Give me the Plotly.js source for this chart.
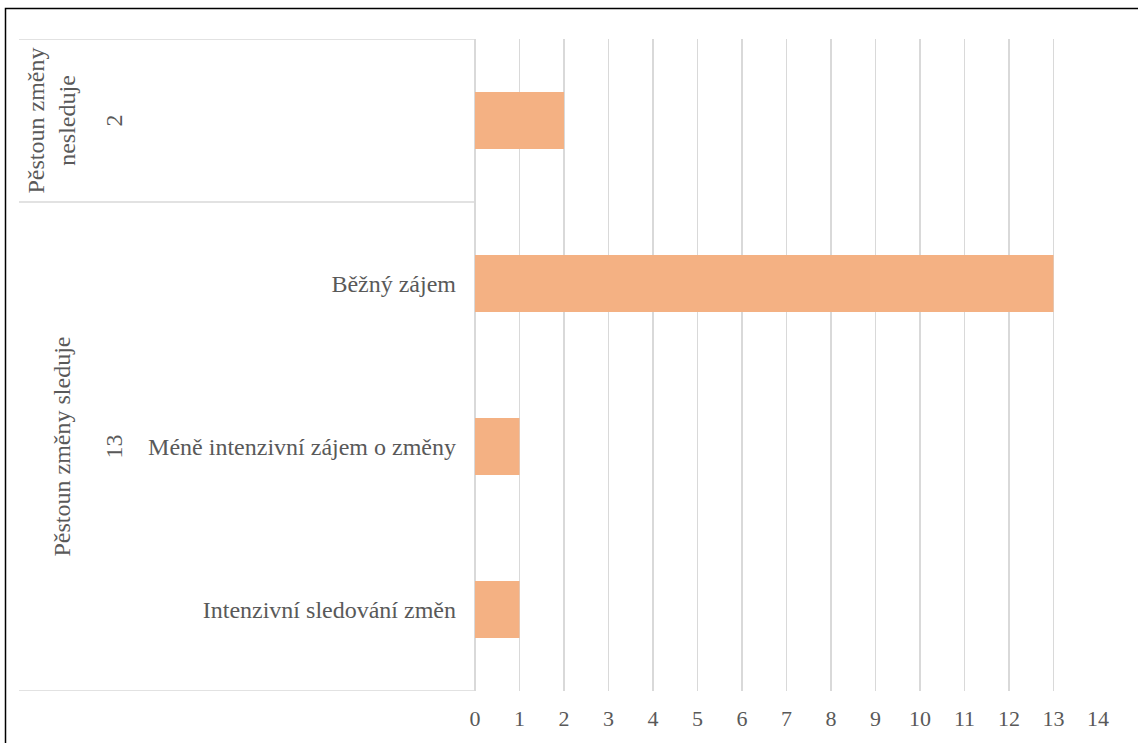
<!DOCTYPE html>
<html>
<head>
<meta charset="utf-8">
<script src="https://cdn.plot.ly/plotly-3.0.1.min.js"></script>
<style>
  html, body { margin: 0; padding: 0; background: #ffffff; }
  #chart { width: 1138px; height: 743px; }
</style>
</head>
<body>
<div id="chart"></div>
<script>
// ---- Data ----
const innerLabels = ["", "Běžný zájem", "Méně intenzivní zájem o změny", "Intenzivní sledování změn"];
const values = [2, 13, 1, 1];
const groupLabels = ["Pěstoun změny<br>nesleduje", "Pěstoun změny sleduje"];
const groupTotals = ["2", "13"];
const groupSizes = [1, 3];
const xTicks = [0, 1, 2, 3, 4, 5, 6, 7, 8, 9, 10, 11, 12, 13, 14];

// ---- Layout helpers ----
const W = 1138, H = 743;
const L = 475, R = 40, T = 39, B = 52;
const plotW = W - L - R;
const px = (x) => (x - L) / plotW; // pixel x -> paper x

const idx = innerLabels.map((_, i) => i);
const textColor = '#595959';
const gridColor = '#d9d9d9';
const font = 'Liberation Serif';

const trace = {
  type: 'bar',
  orientation: 'h',
  y: idx,
  x: values,
  width: 0.35,
  marker: { color: '#f4b183', line: { width: 0 } },
  hoverinfo: 'x'
};

// group boundaries and annotations
const shapes = [];
const annotations = [];
let start = 0;
const boundaries = [-0.5];
groupSizes.forEach((n, g) => {
  const mid = start + (n - 1) / 2;
  annotations.push({
    xref: 'paper', yref: 'y', x: px(g === 0 ? 51 : 61), y: mid,
    text: groupLabels[g], textangle: -90, showarrow: false,
    font: { family: font, size: 24, color: textColor },
    xanchor: 'center', yanchor: 'middle'
  });
  annotations.push({
    xref: 'paper', yref: 'y', x: px(113), y: mid,
    text: groupTotals[g], textangle: -90, showarrow: false,
    font: { family: font, size: 24, color: textColor },
    xanchor: 'center', yanchor: 'middle'
  });
  start += n;
  boundaries.push(start - 0.5);
});
boundaries.forEach(b => {
  shapes.push({
    type: 'line', xref: 'paper', yref: 'y',
    x0: px(19), x1: 0, y0: b, y1: b,
    line: { color: gridColor, width: 1.5 }
  });
});
// outer chart border (top & left visible, right/bottom beyond canvas)
shapes.push({
  type: 'rect', xref: 'paper', yref: 'paper',
  x0: px(5.5), x1: px(1140), y0: 1 + (T - 8.5) / (H - T - B), y1: -(B + 5) / (H - T - B),
  line: { color: '#000000', width: 1.5 }, fillcolor: 'rgba(0,0,0,0)', layer: 'above'
});

const layout = {
  width: W, height: H,
  margin: { l: L, r: R, t: T, b: B, pad: 0 },
  paper_bgcolor: '#ffffff', plot_bgcolor: '#ffffff',
  showlegend: false,
  bargap: 0.65,
  font: { family: font, color: textColor },
  xaxis: {
    range: [0, 14],
    tickvals: xTicks,
    ticktext: xTicks.map(String),
    showgrid: true, gridcolor: gridColor, gridwidth: 1.5,
    zeroline: true, zerolinecolor: gridColor, zerolinewidth: 1.5,
    showline: false, ticks: '',
    tickfont: { family: font, size: 22, color: textColor },
    ticklabelstandoff: 12,
    fixedrange: true
  },
  yaxis: {
    range: [3.5, -0.5],
    tickvals: idx,
    ticktext: innerLabels,
    showgrid: false, zeroline: false, showline: false, ticks: '',
    tickfont: { family: font, size: 24, color: textColor },
    ticklabelstandoff: 18,
    fixedrange: true
  },
  shapes: shapes,
  annotations: annotations
};

Plotly.newPlot('chart', [trace], layout, { displayModeBar: false, staticPlot: true });
</script>
</body>
</html>
